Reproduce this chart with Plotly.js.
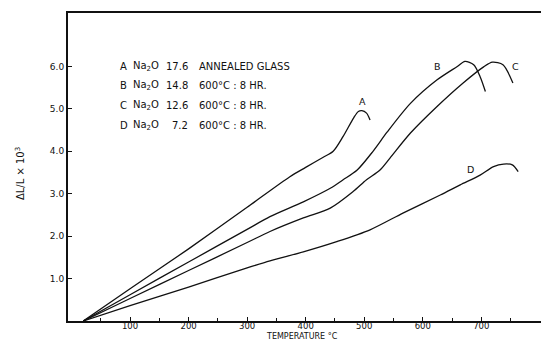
<!DOCTYPE html>
<html>
<head>
<meta charset="utf-8">
<script src="https://cdn.plot.ly/plotly-3.0.1.min.js"></script>
<style>html,body{margin:0;padding:0;background:#fff;}#chart{width:541px;height:340px;}</style>
</head>
<body>
<div id="chart"></div>
<script>
// Temperature (°C) and ΔL/L ×10³ for each glass
const tempA = [20, 100, 200, 300, 373, 400, 430, 447, 464, 482, 490, 496, 504, 510];
const valA  = [0, 0.76, 1.70, 2.68, 3.40, 3.62, 3.86, 4.00, 4.35, 4.79, 4.94, 4.96, 4.90, 4.74];
const tempB = [20, 100, 200, 300, 339, 396, 442, 464, 488, 515, 539, 579, 624, 659, 672, 687, 698, 707];
const valB  = [0, 0.62, 1.39, 2.16, 2.46, 2.81, 3.13, 3.33, 3.56, 4.00, 4.45, 5.13, 5.68, 6.00, 6.12, 6.04, 5.76, 5.41];
const tempC = [20, 100, 200, 300, 339, 396, 442, 481, 504, 527, 544, 579, 624, 669, 704, 719, 737, 754];
const valC  = [0, 0.53, 1.19, 1.85, 2.11, 2.43, 2.66, 3.05, 3.33, 3.56, 3.84, 4.43, 5.05, 5.61, 5.99, 6.10, 6.04, 5.61];
const tempD = [20, 100, 200, 300, 339, 396, 453, 510, 567, 630, 664, 698, 721, 738, 753, 763];
const valD  = [0, 0.36, 0.80, 1.25, 1.42, 1.63, 1.87, 2.15, 2.55, 2.97, 3.21, 3.44, 3.64, 3.70, 3.68, 3.52];

const curveNames = ['A', 'B', 'C', 'D'];
const sodaContent = ['17.6', '14.8', '12.6', '7.2'];
const treatment = ['ANNEALED GLASS', '600°C : 8 HR.', '600°C : 8 HR.', '600°C : 8 HR.'];

const xTickVals = [100, 200, 300, 400, 500, 600, 700];
const xMinorVals = [50, 150, 250, 350, 450, 550, 650, 750];
const yTickVals = [1, 2, 3, 4, 5, 6];
const yTickText = ['1.0', '2.0', '3.0', '4.0', '5.0', '6.0'];

const FONT = 'DejaVu Sans, sans-serif';
const INK = '#111';
const lineStyle = {color: INK, width: 1.3, shape: 'spline', smoothing: 0.8};

const series = [[tempA, valA], [tempB, valB], [tempC, valC], [tempD, valD]];
const traces = series.map((s, i) => ({
  x: s[0], y: s[1], type: 'scatter', mode: 'lines', name: curveNames[i],
  line: lineStyle, hoverinfo: 'skip'
}));

// Curve label positions (data coords)
const labelPos = [[497, 5.17], [625, 6.0], [758, 6.0], [681, 3.56]];

const annotations = [];
labelPos.forEach((p, i) => annotations.push({
  x: p[0], y: p[1], xref: 'x', yref: 'y', text: curveNames[i], showarrow: false,
  font: {family: FONT, size: 9.5, color: INK}
}));

// Key block
const KEY = 10;
const rowY = [6.0, 5.55, 5.08, 4.62];
rowY.forEach((yy, i) => {
  annotations.push({x: 79, y: yy, xref: 'x', yref: 'y', text: curveNames[i], showarrow: false,
    xanchor: 'left', font: {family: FONT, size: KEY, color: INK}});
  annotations.push({x: 101, y: yy, xref: 'x', yref: 'y', text: 'Na<sub>2</sub>O', showarrow: false,
    xanchor: 'left', font: {family: FONT, size: KEY, color: INK}});
  annotations.push({x: 203, y: yy, xref: 'x', yref: 'y', text: sodaContent[i], showarrow: false,
    xanchor: 'right', font: {family: FONT, size: KEY, color: INK}});
  annotations.push({x: 215, y: yy, xref: 'x', yref: 'y', text: treatment[i], showarrow: false,
    xanchor: 'left', font: {family: FONT, size: KEY, color: INK}});
});

// Axis titles
annotations.push({x: 0.5, y: 0, xref: 'paper', yref: 'paper', yshift: -15, xshift: -3,
  text: 'TEMPERATURE °C', showarrow: false, xanchor: 'center', yanchor: 'middle',
  font: {family: FONT, size: 8, color: INK}});
annotations.push({x: 0, y: 0.477, xref: 'paper', yref: 'paper', xshift: -48, text: 'ΔL/L × 10<sup>3</sup>',
  showarrow: false, textangle: -90, xanchor: 'center', yanchor: 'middle',
  font: {family: FONT, size: 10, color: INK}});

const layout = {
  width: 541, height: 340,
  margin: {l: 68, r: 0, t: 13, b: 19},
  paper_bgcolor: '#fff', plot_bgcolor: '#fff',
  showlegend: false,
  font: {family: FONT, size: 9, color: INK},
  xaxis: {
    range: [-6, 802], showgrid: false, zeroline: false,
    showline: true, linecolor: INK, linewidth: 2, mirror: true,
    tickmode: 'array', tickvals: xTickVals, ticks: 'inside', ticklen: 4, tickcolor: INK,
    ticklabelstandoff: -4,
    minor: {tickmode: 'array', tickvals: xMinorVals, ticks: 'inside', ticklen: 3, tickcolor: INK},
    tickfont: {family: FONT, size: 8.5, color: INK}
  },
  yaxis: {
    range: [0, 7.26], showgrid: false, zeroline: false,
    showline: true, linecolor: INK, linewidth: 2,
    tickmode: 'array', tickvals: yTickVals, ticktext: yTickText, ticks: 'inside', ticklen: 4, tickcolor: INK,
    tickfont: {family: FONT, size: 9, color: INK}
  },
  annotations: annotations
};

Plotly.newPlot('chart', traces, layout, {displayModeBar: false, staticPlot: true});
</script>
</body>
</html>
